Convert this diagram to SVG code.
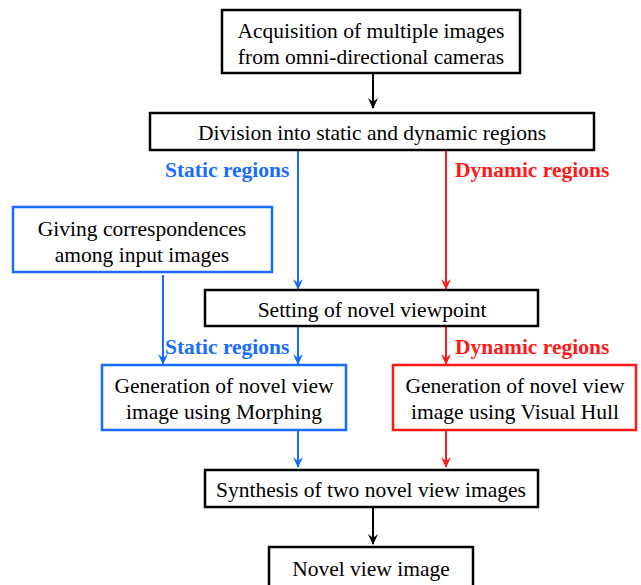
<svg xmlns="http://www.w3.org/2000/svg" width="641" height="585" viewBox="0 0 641 585">
<style>
.box{fill:#fff;stroke-width:2.5}
.k{stroke:#000}
.b{stroke:#1a6cff}
.r{stroke:#ff1a1a}
.t{font-family:"Liberation Serif","Times New Roman",serif;font-size:21.5px;fill:#000;text-anchor:middle}
.lb{font-family:"Liberation Serif","Times New Roman",serif;font-size:21.5px;font-weight:bold}
.line{fill:none;stroke-width:2}
</style>
<defs>
<marker id="ak" markerWidth="11" markerHeight="11" refX="10" refY="5" orient="auto" markerUnits="userSpaceOnUse" viewBox="0 0 11 10">
<path d="M0,0 L4,5 L0,10 L11,5 Z" fill="#000"/>
</marker>
<marker id="ab" markerWidth="11" markerHeight="11" refX="10" refY="5" orient="auto" markerUnits="userSpaceOnUse" viewBox="0 0 11 10">
<path d="M0,0 L4,5 L0,10 L11,5 Z" fill="#1a6cff"/>
</marker>
<marker id="ar" markerWidth="11" markerHeight="11" refX="10" refY="5" orient="auto" markerUnits="userSpaceOnUse" viewBox="0 0 11 10">
<path d="M0,0 L4,5 L0,10 L11,5 Z" fill="#ff1a1a"/>
</marker>
</defs>
<g id="connectors">
<path class="line k" d="M373,73 V108" marker-end="url(#ak)"/>
<path class="line b" d="M298,150 V289" marker-end="url(#ab)"/>
<path class="line r" d="M446,150 V289" marker-end="url(#ar)"/>
<path class="line b" d="M163,275 V364" marker-end="url(#ab)"/>
<path class="line b" d="M298,326 V364" marker-end="url(#ab)"/>
<path class="line r" d="M446,326 V364" marker-end="url(#ar)"/>
<path class="line b" d="M298,430 V467" marker-end="url(#ab)"/>
<path class="line r" d="M446,430 V467" marker-end="url(#ar)"/>
<path class="line k" d="M373,507 V544" marker-end="url(#ak)"/>
<text class="lb" x="165" y="177" fill="#1a6cff">Static regions</text>
<text class="lb" x="455" y="177" fill="#ff1a1a">Dynamic regions</text>
<text class="lb" x="165" y="354" fill="#1a6cff">Static regions</text>
<text class="lb" x="455" y="354" fill="#ff1a1a">Dynamic regions</text>
</g>
<g id="acquisition">
<rect class="box k" x="222" y="10" width="298" height="63"/>
<text class="t" x="371" y="38">Acquisition of multiple images</text>
<text class="t" x="371" y="64">from omni-directional cameras</text>
</g>
<g id="division">
<rect class="box k" x="150" y="113" width="444" height="37"/>
<text class="t" x="372" y="140">Division into static and dynamic regions</text>
</g>
<g id="correspondences">
<rect class="box b" x="13" y="207" width="259" height="65"/>
<text class="t" x="142" y="236">Giving correspondences</text>
<text class="t" x="142" y="262">among input images</text>
</g>
<g id="viewpoint">
<rect class="box k" x="205" y="290" width="333" height="36"/>
<text class="t" x="372" y="317">Setting of novel viewpoint</text>
</g>
<g id="morphing">
<rect class="box b" x="102" y="365" width="244" height="65"/>
<text class="t" x="224" y="393">Generation of novel view</text>
<text class="t" x="224" y="419">image using Morphing</text>
</g>
<g id="visualhull">
<rect class="box r" x="393" y="365" width="243" height="65"/>
<text class="t" x="515" y="393">Generation of novel view</text>
<text class="t" x="515" y="419">image using Visual Hull</text>
</g>
<g id="synthesis">
<rect class="box k" x="205" y="470" width="333" height="37"/>
<text class="t" x="371" y="497">Synthesis of two novel view images</text>
</g>
<g id="output">
<rect class="box k" x="269" y="547" width="204" height="42"/>
<text class="t" x="371" y="576">Novel view image</text>
</g>
</svg>
